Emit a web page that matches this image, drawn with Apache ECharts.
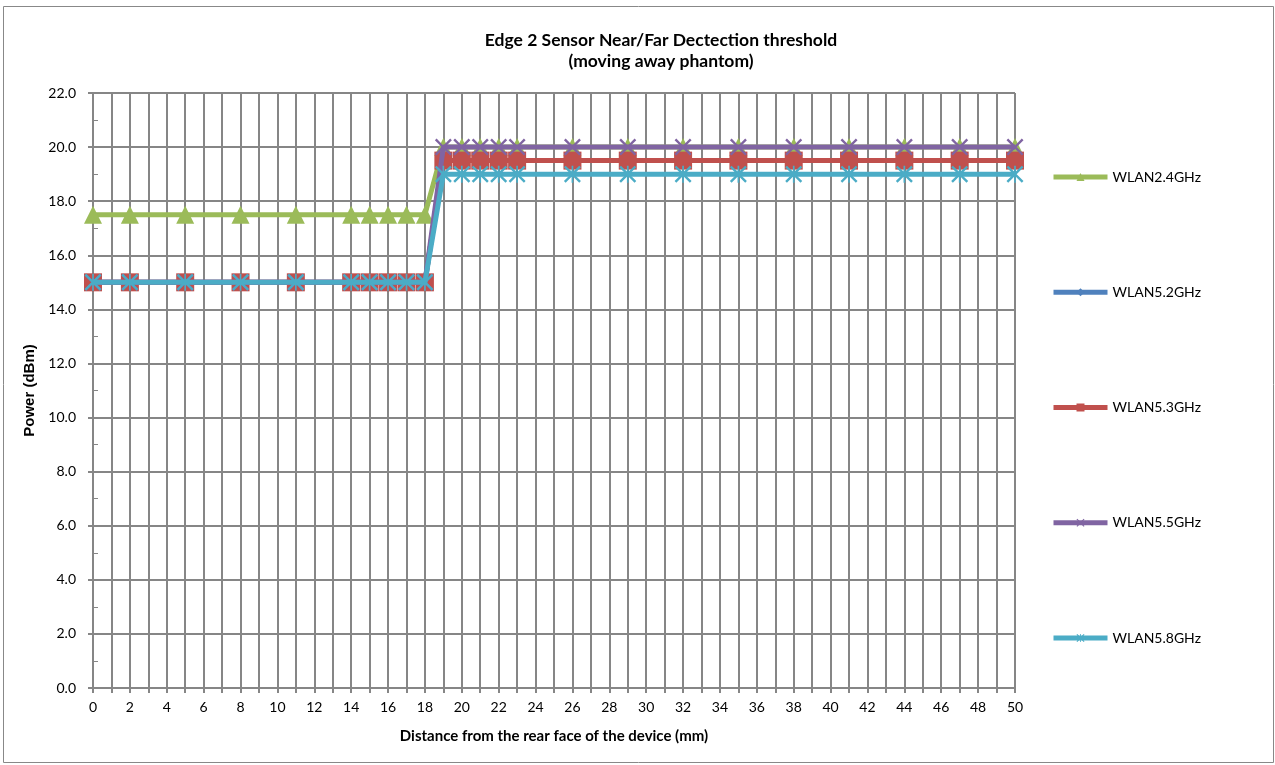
<!DOCTYPE html>
<html>
<head>
<meta charset="utf-8">
<script src="https://cdn.jsdelivr.net/npm/echarts@6/dist/echarts.min.js"></script>
<style>html,body{margin:0;padding:0;background:#fff;}#c{width:1275px;height:765px;}</style>
</head>
<body>
<div id="c"></div>
<script>
const distances = [0,2,5,8,11,14,15,16,17,18,19,20,21,22,23,26,29,32,35,38,41,44,47,50];
const wlan24 = [17.5,17.5,17.5,17.5,17.5,17.5,17.5,17.5,17.5,17.5,20,20,20,20,20,20,20,20,20,20,20,20,20,20];
const wlan52 = [15,15,15,15,15,15,15,15,15,15,19.5,19.5,19.5,19.5,19.5,19.5,19.5,19.5,19.5,19.5,19.5,19.5,19.5,19.5];
const wlan53 = [15,15,15,15,15,15,15,15,15,15,19.5,19.5,19.5,19.5,19.5,19.5,19.5,19.5,19.5,19.5,19.5,19.5,19.5,19.5];
const wlan55 = [15,15,15,15,15,15,15,15,15,15,20,20,20,20,20,20,20,20,20,20,20,20,20,20];
const wlan58 = [15,15,15,15,15,15,15,15,15,15,19,19,19,19,19,19,19,19,19,19,19,19,19,19];
const seriesNames = ['WLAN2.4GHz','WLAN5.2GHz','WLAN5.3GHz','WLAN5.5GHz','WLAN5.8GHz'];

const FONT = 'Lato, "Open Sans", sans-serif';
const GRID = '#868686';
const xSym = 'path://M0,1L1,0L5,4L9,0L10,1L6,5L10,9L9,10L5,6L1,10L0,9L4,5Z';
const starSym = 'path://M0,1L1,0L4.5,3.5L4.5,0L5.5,0L5.5,3.5L9,0L10,1L6,5L10,9L9,10L5.5,6.5L5.5,10L4.5,10L4.5,6.5L1,10L0,9L4,5Z';

function pairs(vals){ return distances.map((d,i)=>[d, vals[i]]); }

const defs = [
  {name: seriesNames[0], data: wlan24, color:'#9BBB59', symbol:'triangle', size:18},
  {name: seriesNames[1], data: wlan52, color:'#4F81BD', symbol:'diamond', size:14},
  {name: seriesNames[2], data: wlan53, color:'#C0504D', symbol:'rect', size:18},
  {name: seriesNames[3], data: wlan55, color:'#8064A2', symbol:xSym, size:17},
  {name: seriesNames[4], data: wlan58, color:'#4BACC6', symbol:starSym, size:17}
];

const chart = echarts.init(document.getElementById('c'));
chart.setOption({
  animation: false,
  backgroundColor: '#fff',
  title: {
    text: 'Edge 2 Sensor Near/Far Dectection threshold\n(moving away phantom)',
    left: 656, top: 25, textAlign: 'center',
    textStyle: {fontFamily: FONT, fontWeight: 'bold', fontSize: 17.5, color: '#000', lineHeight: 21}
  },
  graphic: [{
    type: 'rect', shape: {x: 3.5, y: 6.5, width: 1270, height: 756},
    style: {fill: 'none', stroke: '#888', lineWidth: 1}, silent: true
  }],
  legend: {
    orient: 'vertical', left: 1046, top: 165,
    itemGap: 101.25, itemWidth: 54, itemHeight: 10,
    lineStyle: {width: 5},
    textStyle: {fontFamily: FONT, fontSize: 14, color: '#000'},
    data: seriesNames
  },
  grid: {left: 93, right: 260, top: 93, bottom: 77},
  xAxis: {
    type: 'value', min: 0, max: 50, interval: 2,
    name: 'Distance from the rear face of the device (mm)',
    nameLocation: 'middle', nameGap: 41,
    nameTextStyle: {fontFamily: FONT, fontWeight: 'bold', fontSize: 15, color: '#000'},
    axisLine: {show: true, lineStyle: {color: GRID, width: 2}},
    axisTick: {show: true, length: 5, lineStyle: {color: GRID, width: 2}},
    minorTick: {show: true, splitNumber: 2, length: 5, lineStyle: {color: GRID, width: 2}},
    splitLine: {show: true, lineStyle: {color: GRID, width: 2}},
    minorSplitLine: {show: true, lineStyle: {color: GRID, width: 2}},
    axisLabel: {fontFamily: FONT, fontSize: 14, color: '#000', margin: 12}
  },
  yAxis: {
    type: 'value', min: 0, max: 22, interval: 2,
    name: 'Power (dBm)', nameLocation: 'middle', nameGap: 56,
    nameTextStyle: {fontFamily: '"Liberation Sans", Arial, sans-serif', fontWeight: 'bold', fontSize: 15, color: '#000'},
    axisLine: {show: true, lineStyle: {color: GRID, width: 2}},
    axisTick: {show: true, length: 5, lineStyle: {color: GRID, width: 2}},
    minorTick: {show: true, splitNumber: 2, length: -5, lineStyle: {color: GRID, width: 1}},
    splitLine: {show: true, lineStyle: {color: GRID, width: 2}},
    axisLabel: {fontFamily: FONT, fontSize: 14, color: '#000', margin: 17, formatter: v => v.toFixed(1)}
  },
  series: defs.map((d, i) => ({
    name: d.name, type: 'line', data: pairs(d.data),
    symbol: d.symbol, symbolSize: d.size, showSymbol: true,
    z: 2 + i,
    lineStyle: {color: d.color, width: 5},
    itemStyle: {color: d.color, borderColor: d.color, borderWidth: 0}
  }))
});
</script>
</body>
</html>
